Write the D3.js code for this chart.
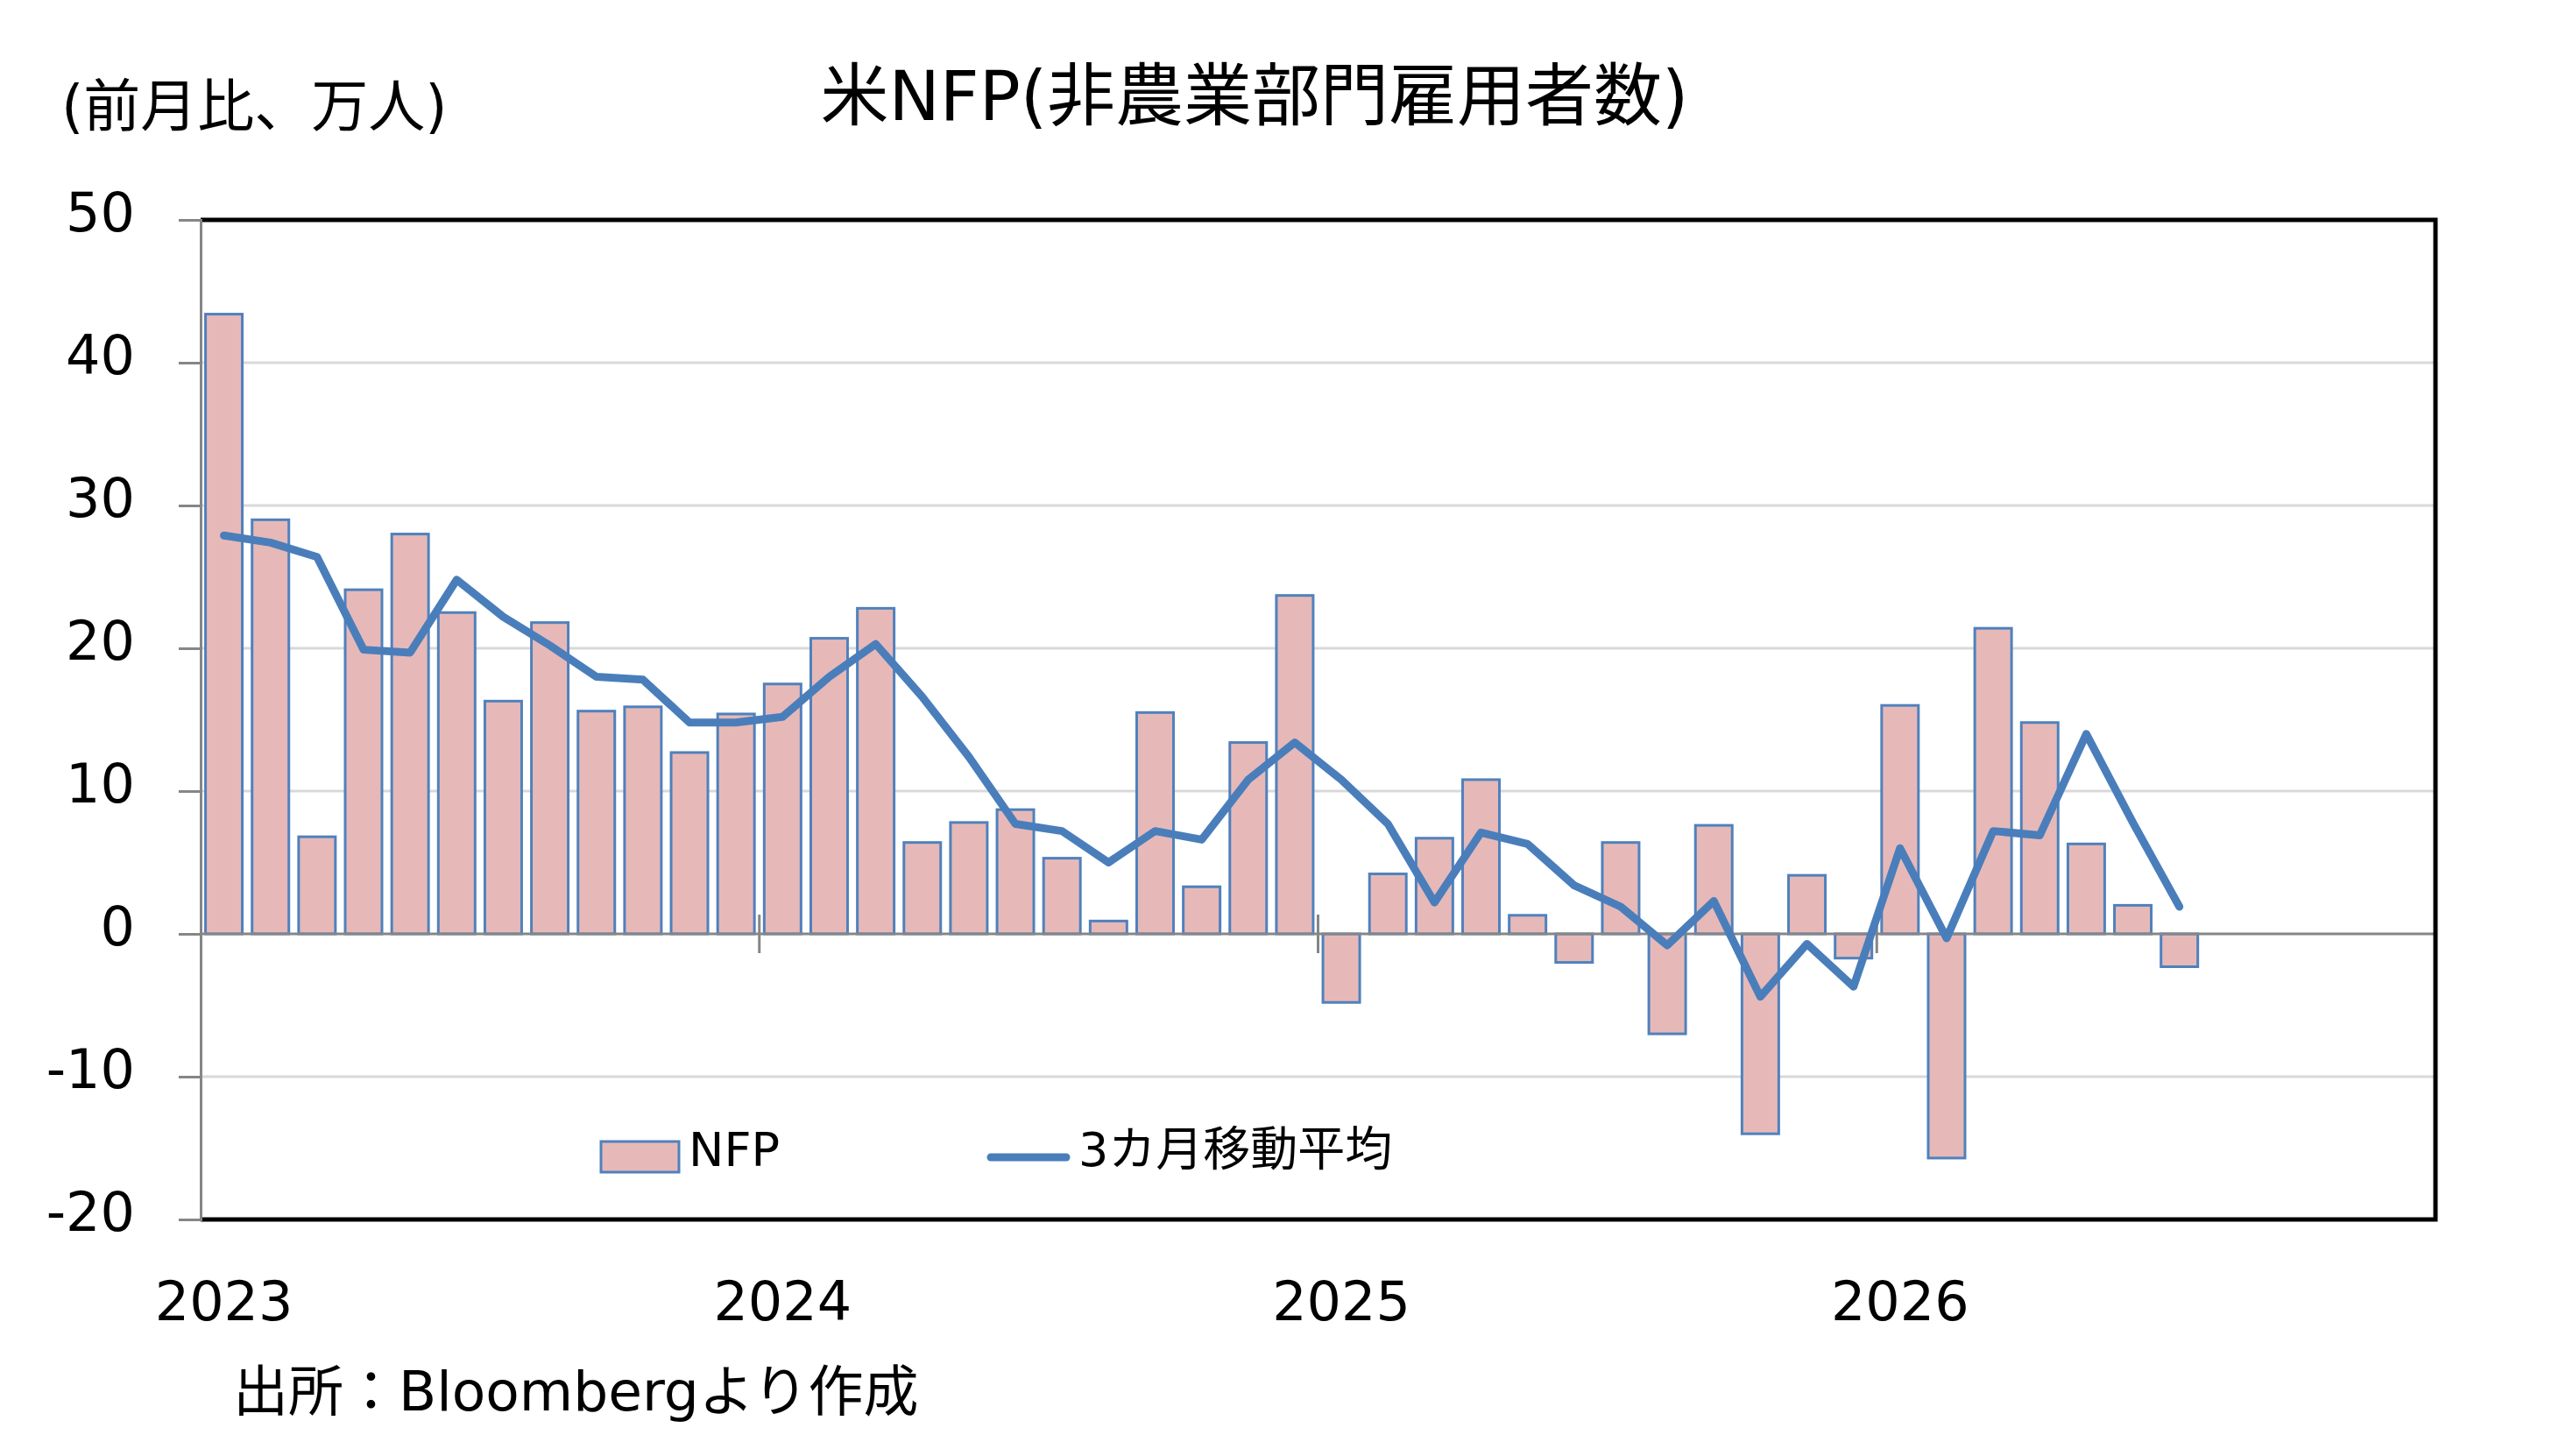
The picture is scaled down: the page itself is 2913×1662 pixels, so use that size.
<!DOCTYPE html>
<html>
<head>
<meta charset="utf-8">
<script src="https://cdn.jsdelivr.net/npm/d3@7"></script>
<style>
  body { margin: 0; background: #fff; }
  text { font-family: "DejaVu Sans", "Noto Sans CJK JP", sans-serif; fill: #000; }
</style>
</head>
<body>
<div id="chart"></div>
<script>
var svgWidth = 2913;
var svgHeight = 1662;
var margin = { top: 251, right: 133, bottom: 270, left: 229 };
var width = svgWidth - margin.left - margin.right;
var height = svgHeight - margin.top - margin.bottom;

// months on the axis: Jan 2023 .. Dec 2026
var years = ["2023", "2024", "2025", "2026"];
var months = [];
years.forEach(function(y) {
  for (var m = 1; m <= 12; m++) months.push(y + "-" + (m < 10 ? "0" + m : m));
});

// NFP, month-on-month change (10k persons), Jan 2023 .. Jul 2026
var nfp = [
  43.4, 29.0, 6.8, 24.1, 28.0, 22.5, 16.3, 21.8, 15.6, 15.9, 12.7, 15.4,
  17.5, 20.7, 22.8, 6.4, 7.8, 8.7, 5.3, 0.9, 15.5, 3.3, 13.4, 23.7,
  -4.8, 4.2, 6.7, 10.8, 1.3, -2.0, 6.4, -7.0, 7.6, -14.0, 4.1, -1.7,
  16.0, -15.7, 21.4, 14.8, 6.3, 2.0, -2.3
];
// 3-month moving average
var ma3 = [
  27.9, 27.4, 26.4, 19.9, 19.7, 24.8, 22.2, 20.2, 18.0, 17.8, 14.8, 14.8,
  15.2, 18.0, 20.3, 16.6, 12.4, 7.7, 7.2, 5.0, 7.2, 6.6, 10.8, 13.4,
  10.8, 7.7, 2.2, 7.1, 6.3, 3.4, 1.9, -0.8, 2.3, -4.4, -0.7, -3.7,
  6.0, -0.3, 7.2, 6.9, 14.0, 7.8, 1.9
];
var yTicks = [-20, -10, 0, 10, 20, 30, 40, 50];

var svg = d3.select("#chart")
  .append("svg")
  .attr("width", svgWidth)
  .attr("height", svgHeight);

svg.append("rect").attr("width", svgWidth).attr("height", svgHeight).attr("fill", "#fff");

var chartGroup = svg.append("g")
  .attr("transform", `translate(${margin.left}, ${margin.top})`);

var xScale = d3.scaleBand()
  .domain(months)
  .range([0, width])
  .paddingInner(0.21)
  .paddingOuter(0.105);

var yScale = d3.scaleLinear()
  .domain([-20, 50])
  .range([height, 0]);

// gridlines
chartGroup.append("g")
  .selectAll("line")
  .data(yTicks.filter(d => d !== 0 && d !== 50 && d !== -20))
  .enter()
  .append("line")
  .attr("x1", 0)
  .attr("x2", width)
  .attr("y1", d => yScale(d))
  .attr("y2", d => yScale(d))
  .attr("stroke", "#d9d9d9")
  .attr("stroke-width", 3);

// bars
chartGroup.selectAll("rect.bar")
  .data(nfp)
  .enter()
  .append("rect")
  .attr("class", "bar")
  .attr("x", (d, i) => xScale(months[i]))
  .attr("y", d => yScale(Math.max(0, d)))
  .attr("width", xScale.bandwidth())
  .attr("height", d => Math.abs(yScale(d) - yScale(0)))
  .attr("fill", "#e6b9b8")
  .attr("stroke", "#4f81bd")
  .attr("stroke-width", 3);

// zero axis with year ticks
var y0 = yScale(0);
chartGroup.append("line")
  .attr("x1", 0).attr("x2", width)
  .attr("y1", y0).attr("y2", y0)
  .attr("stroke", "#868686")
  .attr("stroke-width", 3);

var step = xScale.step();
chartGroup.append("g")
  .selectAll("line")
  .data([12, 24, 36, 48])
  .enter()
  .append("line")
  .attr("x1", d => xScale(months[0]) - xScale.paddingOuter() * step + d * step)
  .attr("x2", d => xScale(months[0]) - xScale.paddingOuter() * step + d * step)
  .attr("y1", y0 - 22)
  .attr("y2", y0 + 22)
  .attr("stroke", "#868686")
  .attr("stroke-width", 3);

// 3-month moving average line
var line = d3.line()
  .x((d, i) => xScale(months[i]) + xScale.bandwidth() / 2)
  .y(d => yScale(d));

chartGroup.append("path")
  .datum(ma3)
  .attr("d", line)
  .attr("fill", "none")
  .attr("stroke", "#4a7ebb")
  .attr("stroke-width", 9)
  .attr("stroke-linejoin", "round")
  .attr("stroke-linecap", "round");

// frame
chartGroup.append("path")
  .attr("d", `M0,0H${width}V${height}H0`)
  .attr("fill", "none")
  .attr("stroke", "#000")
  .attr("stroke-width", 5);

// left axis
var leftAxis = d3.axisLeft(yScale)
  .tickValues(yTicks)
  .tickSize(25)
  .tickPadding(50)
  .tickFormat(d => String(d));

var yAxisG = chartGroup.append("g").call(leftAxis);
yAxisG.select(".domain").attr("stroke", "#868686").attr("stroke-width", 3);
yAxisG.selectAll(".tick line").attr("stroke", "#868686").attr("stroke-width", 3);
yAxisG.selectAll(".tick text")
  .attr("font-size", 62)
  .attr("dy", 12)
  .attr("fill", "#000")
  .style("font-family", "'DejaVu Sans', 'Noto Sans CJK JP', sans-serif");

// year labels under the chart
chartGroup.append("g")
  .selectAll("text")
  .data(years)
  .enter()
  .append("text")
  .attr("x", d => xScale(d + "-01") + xScale.bandwidth() / 2)
  .attr("y", 1507 - margin.top)
  .attr("text-anchor", "middle")
  .attr("font-size", 62)
  .text(d => d);

// titles
svg.append("text")
  .attr("x", 1432)
  .attr("y", 137)
  .attr("text-anchor", "middle")
  .attr("font-size", 78)
  .text("米NFP(非農業部門雇用者数)");

svg.append("text")
  .attr("x", 70)
  .attr("y", 144)
  .attr("font-size", 65)
  .text("(前月比、万人)");

// legend
svg.append("rect")
  .attr("x", 686).attr("y", 1303)
  .attr("width", 89).attr("height", 35)
  .attr("fill", "#e6b9b8")
  .attr("stroke", "#4f81bd")
  .attr("stroke-width", 3);
svg.append("text")
  .attr("x", 786).attr("y", 1331)
  .attr("font-size", 54)
  .text("NFP");

svg.append("line")
  .attr("x1", 1131).attr("x2", 1217)
  .attr("y1", 1321).attr("y2", 1321)
  .attr("stroke", "#4a7ebb")
  .attr("stroke-width", 9)
  .attr("stroke-linecap", "round");
svg.append("text")
  .attr("x", 1231).attr("y", 1331)
  .attr("font-size", 54)
  .text("3カ月移動平均");

// source
svg.append("text")
  .attr("x", 266)
  .attr("y", 1610)
  .attr("font-size", 63)
  .text("出所：Bloombergより作成");
</script>
</body>
</html>
